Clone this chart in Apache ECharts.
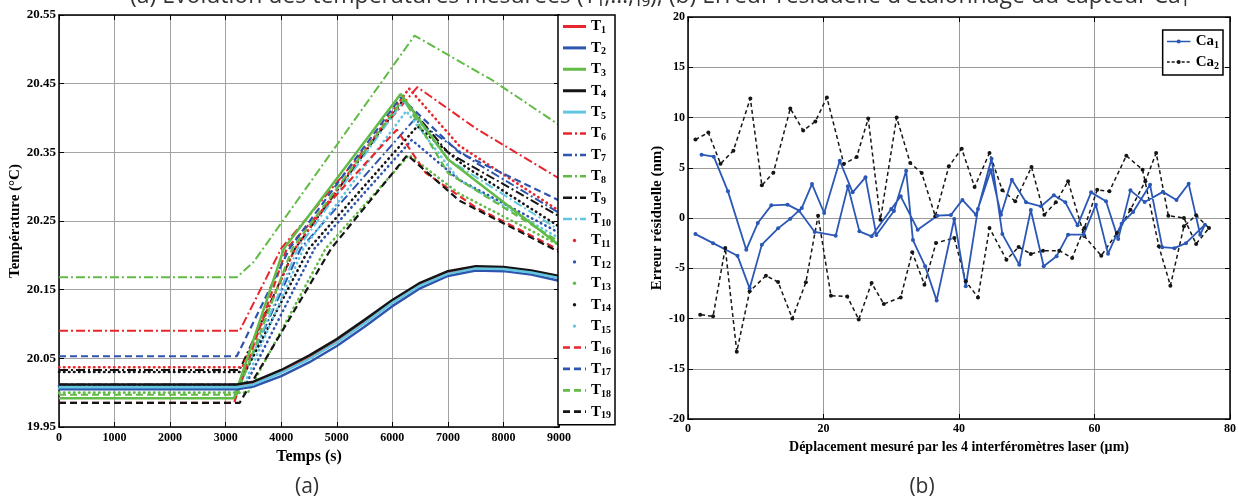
<!DOCTYPE html>
<html><head><meta charset="utf-8">
<script src="https://cdn.jsdelivr.net/npm/echarts@6/dist/echarts.min.js"></script>
<style>html,body{margin:0;padding:0;background:#fff}#c{width:1239px;height:499px}</style>
</head><body><div id="c"></div>
<script>
// ---------- (a) temperatures : [time (s), temperature (°C)] ----------
const tNames = ['T1','T2','T3','T4','T5','T6','T7','T8','T9','T10','T11','T12','T13','T14','T15','T16','T17','T18','T19'];
const T1 = [[0,20.008],[3200,20.008],[3500,20.013],[4000,20.03],[4500,20.05],[5000,20.074],[5500,20.102],[6000,20.132],[6500,20.157],[7000,20.174],[7500,20.182],[8000,20.181],[8500,20.176],[9000,20.168]];
const T2 = [[0,20.005],[3200,20.005],[3500,20.009],[4000,20.024],[4500,20.044],[5000,20.068],[5500,20.096],[6000,20.126],[6500,20.152],[7000,20.17],[7500,20.178],[8000,20.177],[8500,20.172],[9000,20.163]];
const T3 = [[0,19.992],[3150,19.992],[4050,20.21],[6150,20.435],[7000,20.34],[9000,20.215]];
const T4 = [[0,20.012],[3200,20.012],[3500,20.016],[4000,20.033],[4500,20.054],[5000,20.078],[5500,20.106],[6000,20.135],[6500,20.16],[7000,20.177],[7500,20.184],[8000,20.183],[8500,20.178],[9000,20.17]];
const T5 = [[0,20.008],[3200,20.008],[3500,20.012],[4000,20.029],[4500,20.049],[5000,20.073],[5500,20.101],[6000,20.131],[6500,20.156],[7000,20.173],[7500,20.181],[8000,20.18],[8500,20.175],[9000,20.167]];
const T6 = [[0,20.09],[3250,20.09],[4000,20.21],[6450,20.445],[7500,20.385],[9000,20.312]];
const T7 = [[0,20.012],[3250,20.012],[4350,20.21],[6400,20.398],[7500,20.335],[9000,20.262]];
const T8 = [[0,20.168],[3200,20.168],[3500,20.19],[6400,20.52],[7800,20.455],[9000,20.39]];
const T9 = [[0,20.033],[3250,20.033],[4250,20.21],[6200,20.427],[7000,20.35],[9000,20.257]];
const T10 = [[0,20.01],[3250,20.01],[4300,20.21],[6200,20.425],[7000,20.34],[9000,20.237]];
const T11 = [[0,20.037],[3300,20.037],[4250,20.21],[6300,20.443],[7200,20.36],[9000,20.265]];
const T12 = [[0,20.01],[3350,20.01],[4600,20.21],[6350,20.368],[7200,20.31],[9000,20.233]];
const T13 = [[0,20.0],[3400,20.0],[4800,20.21],[6300,20.346],[7200,20.29],[9000,20.215]];
const T14 = [[0,20.03],[3350,20.03],[4500,20.21],[6450,20.388],[7300,20.33],[9000,20.242]];
const T15 = [[0,20.006],[3300,20.006],[4400,20.21],[6250,20.41],[7200,20.31],[9000,20.225]];
const T16 = [[0,19.985],[3150,19.985],[4100,20.21],[6080,20.383],[6600,20.32],[7500,20.27],[9000,20.208]];
const T17 = [[0,20.053],[3200,20.053],[4150,20.21],[6150,20.43],[7200,20.35],[9000,20.28]];
const T18 = [[0,19.997],[3200,19.997],[4200,20.21],[6200,20.428],[7000,20.32],[9000,20.22]];
const T19 = [[0,19.985],[3250,19.985],[4900,20.21],[6270,20.346],[7200,20.28],[9000,20.205]];
const tData = [T1,T2,T3,T4,T5,T6,T7,T8,T9,T10,T11,T12,T13,T14,T15,T16,T17,T18,T19];
const tTicksX = {min:0, max:9000, step:1000};
const tTicksY = {min:19.95, max:20.55, step:0.1};

// ---------- (b) residual error : [displacement (µm), error (nm)] ----------
const ca1Out = [[1.1,-1.6],[3.7,-2.5],[7.3,-3.75],[9.1,-7.0],[10.9,-2.65],[13.3,-1.03],[15.1,-0.07],[16.8,1.0],[18.3,3.38],[20.1,0.5],[22.4,5.7],[24.3,2.55],[26.2,4.05],[27.8,-1.7],[30.4,0.7],[32.2,4.7],[33.2,-2.2],[35.0,-4.8],[36.7,-8.2],[39.3,-0.1],[41.0,-6.8],[42.8,0.9],[44.8,5.9],[46.4,-1.6],[48.9,-4.65],[50.6,0.8],[52.5,-4.8],[54.4,-3.8],[56.1,-1.66],[58.4,-1.66],[60.2,1.33],[62.0,-3.55],[64.0,-0.56],[65.7,0.6],[68.2,3.3],[70.0,-2.9],[71.8,-3.0],[73.5,-2.5],[76.3,-0.66]];
const ca1Back = [[2.0,6.3],[3.8,6.1],[5.9,2.65],[8.6,-3.15],[10.3,-0.5],[12.3,1.26],[14.7,1.33],[16.4,0.73],[18.7,-1.39],[21.8,-1.76],[23.6,3.15],[25.3,-1.33],[27.1,-1.82],[30.0,0.9],[31.4,2.16],[33.9,-1.16],[36.8,0.23],[38.8,0.3],[40.5,1.8],[42.5,0.33],[44.7,4.75],[46.2,0.33],[47.8,3.8],[49.9,1.56],[52.1,1.16],[54.0,2.26],[55.7,1.56],[57.5,-0.73],[59.5,2.55],[61.7,1.66],[63.5,-2.1],[65.3,2.75],[67.4,1.6],[70.1,2.6],[72.1,1.8],[73.9,3.4],[75.6,-1.66]];
const ca2Out = [[1.1,7.8],[3.0,8.5],[4.8,5.4],[6.7,6.7],[9.2,11.9],[10.9,3.25],[12.6,4.5],[15.1,10.9],[17.0,8.7],[18.8,9.6],[20.5,12.0],[23.0,5.37],[24.9,6.07],[26.6,9.9],[28.4,-0.17],[30.8,10.0],[32.8,5.47],[34.5,4.48],[36.5,0.17],[38.5,5.14],[40.4,6.9],[42.3,3.08],[44.5,6.47],[46.4,2.75],[48.3,1.66],[50.7,5.07],[52.6,0.33],[54.3,1.56],[56.1,3.65],[58.5,-1.8],[61.0,-3.75],[63.3,-1.5],[65.3,0.83],[67.5,3.65],[69.1,6.47],[70.9,0.23],[73.2,0],[75.0,-2.58],[76.9,-1.0]];
const ca2Back = [[1.8,-9.62],[3.7,-9.78],[5.5,-2.98],[7.2,-13.3],[9.1,-7.3],[11.5,-5.74],[13.3,-6.37],[15.4,-10.0],[17.4,-6.4],[19.2,0.23],[21.1,-7.73],[23.5,-7.8],[25.2,-10.1],[27.1,-6.47],[28.9,-8.56],[31.4,-7.9],[33.1,-3.42],[34.9,-6.63],[36.6,-2.49],[39.3,-1.99],[41.0,-6.3],[42.8,-7.9],[44.5,-1.0],[47.0,-4.15],[48.8,-2.89],[50.6,-3.58],[52.4,-3.25],[54.8,-3.25],[56.7,-3.98],[58.5,-1.0],[60.4,2.8],[62.2,2.65],[64.7,6.2],[67.1,4.8],[69.5,-2.82],[71.2,-6.73],[73.2,-0.83],[75.0,0.27]];
const caNames = ['Ca1','Ca2'];
const caTicksX = {min:0, max:80, step:20};
const caTicksY = {min:-20, max:20, step:5};

// ---------- styles ----------
const SERIF = '"Liberation Serif","Times New Roman",serif';
const RED='#e8262d', BLUE='#2e55ad', GREEN='#62bb46', BLACK='#151515', CYAN='#62c6e0', CABLUE='#2b57b5';
const cols = [RED,BLUE,GREEN,BLACK,CYAN];
const DASHDOT=[9,3,2,3], DOT=[0.5,4.5], DASH=[7,4];
function styleOf(i){
  const c = cols[i%5];
  if (i<5) return {color:c, width:2.5, type:'solid'};
  if (i<10) return {color:c, width:2, type:DASHDOT};
  if (i<15) return {color:c, width:2.6, type:DOT, cap:'round'};
  return {color:c, width:2.2, type:DASH};
}
function svgIcon(body, w, h){
  return 'image://data:image/svg+xml;utf8,' + encodeURIComponent('<svg xmlns="http://www.w3.org/2000/svg" width="'+w+'" height="'+h+'">'+body+'</svg>');
}
function legendIcon(i){
  const s = styleOf(i);
  if (i>=10 && i<15) return svgIcon('<circle cx="11.5" cy="6" r="1.7" fill="'+s.color+'"/>',23,12);
  const dash = Array.isArray(s.type) ? ' stroke-dasharray="'+s.type.join(',')+'"' : '';
  return svgIcon('<line x1="0" y1="6" x2="23" y2="6" stroke="'+s.color+'" stroke-width="'+(s.width+0.5)+'"'+dash+'/>',23,12);
}
function caIcon(color, dash){
  return svgIcon('<line x1="0" y1="4" x2="24" y2="4" stroke="'+color+'" stroke-width="1.6"'+(dash?' stroke-dasharray="3,2"':'')+'/><circle cx="12" cy="4" r="2" fill="'+color+'"/>',24,8);
}

const axisLbl = {fontFamily:SERIF, fontWeight:'bold', fontSize:12, color:'#000'};
const axLine = {show:true, onZero:false, lineStyle:{color:'#000', width:1.5}};
const tick = {show:true, inside:true, length:5, lineStyle:{color:'#000', width:1}};
function xA(grid, t, pos, extra){ return Object.assign({type:'value', gridIndex:grid, position:pos, min:t.min, max:t.max, interval:t.step,
  axisLine:axLine, axisTick:tick, axisLabel:{show:false}, splitLine:{show:false}}, extra||{}); }

const series = [];
const drawOrder = [5,6,7,8,9,10,11,12,13,14,15,16,17,18,2,0,3,1,4];
drawOrder.forEach(i=>{
  const ls = styleOf(i);
  series.push({name:tNames[i], type:'line', xAxisIndex:0, yAxisIndex:0, data:tData[i], symbol:'none', showSymbol:false,
    lineStyle:ls, itemStyle:{color:ls.color}});
});
series.push({name:'Ca2', type:'line', xAxisIndex:2, yAxisIndex:2, data:ca2Out.concat(ca2Back.slice().reverse()),
  symbol:'circle', symbolSize:4, showAllSymbol:true, lineStyle:{color:BLACK, width:1.5, type:[4,3]}, itemStyle:{color:BLACK}});
series.push({name:'Ca1', type:'line', xAxisIndex:2, yAxisIndex:2, data:ca1Out.concat(ca1Back.slice().reverse()),
  symbol:'circle', symbolSize:4, showAllSymbol:true, lineStyle:{color:CABLUE, width:1.8}, itemStyle:{color:CABLUE}});

const legRich = {t:{fontFamily:SERIF, fontWeight:'bold', fontSize:15, color:'#000', lineHeight:18, verticalAlign:'middle'},
                 s:{fontFamily:SERIF, fontWeight:'bold', fontSize:10, color:'#000', lineHeight:18, verticalAlign:'bottom'}};

const option = {
  animation:false,
  backgroundColor:'#fff',
  grid:[{left:59, right:680, top:15, bottom:72}, {left:688, right:7, top:17, bottom:80}],
  xAxis:[
    xA(0,tTicksX,'bottom',{axisLabel:Object.assign({margin:5, formatter:v=>String(v)},axisLbl), splitLine:{show:true, lineStyle:{color:'#a3a3a3', width:1}},
      name:'Temps (s)', nameLocation:'middle', nameGap:20, nameTextStyle:{fontFamily:SERIF, fontWeight:'bold', fontSize:16, color:'#000'}}),
    xA(0,tTicksX,'top'),
    xA(1,caTicksX,'bottom',{axisLabel:Object.assign({margin:4, formatter:v=>String(v)},axisLbl), splitLine:{show:true, lineStyle:{color:'#9a9a9a', width:1}},
      name:'Déplacement mesuré par les 4 interféromètres laser (µm)', nameLocation:'middle', nameGap:18, nameTextStyle:{fontFamily:SERIF, fontWeight:'bold', fontSize:14, color:'#000'}}),
    xA(1,caTicksX,'top')
  ],
  yAxis:[
    xA(0,tTicksY,'left',{axisLabel:Object.assign({margin:3, formatter:v=>v.toFixed(2)},axisLbl, {fontSize:13}), splitLine:{show:true, lineStyle:{color:'#a3a3a3', width:1}},
      name:'Température (°C)', nameLocation:'middle', nameGap:33, nameTextStyle:{fontFamily:SERIF, fontWeight:'bold', fontSize:15, color:'#000'}}),
    xA(0,tTicksY,'right'),
    xA(1,caTicksY,'left',{axisLabel:Object.assign({margin:3, formatter:v=>String(v)},axisLbl), splitLine:{show:true, lineStyle:{color:'#9a9a9a', width:1}},
      name:'Erreur résiduelle (nm)', nameLocation:'middle', nameGap:22, nameTextStyle:{fontFamily:SERIF, fontWeight:'bold', fontSize:15, color:'#000'}}),
    xA(1,caTicksY,'right')
  ],
  legend:[
    {orient:'vertical', left:558, top:15, itemWidth:23, itemHeight:12, itemGap:4.9, padding:[4,4,4,5],
     borderColor:'#000', borderWidth:1.5, backgroundColor:'#fff',
     data:tNames.map((n,i)=>({name:n, icon:legendIcon(i)})),
     formatter:n=>'{t|T}{s|'+n.slice(1)+'}', textStyle:{rich:legRich}},
    {orient:'vertical', right:16, top:30, itemWidth:24, itemHeight:8, itemGap:4, padding:[4,4,4,4],
     borderColor:'#000', borderWidth:1.5, backgroundColor:'#fff',
     data:[{name:'Ca1', icon:caIcon(CABLUE,false)},{name:'Ca2', icon:caIcon(BLACK,true)}],
     formatter:n=>'{t|Ca}{s|'+n.slice(2)+'}', textStyle:{rich:legRich}}
  ],
  graphic:[
    {type:'text', x:130, y:-4, style:{text:'(a) Évolution des températures mesurées (T₁,…,₁₉), (b) Erreur résiduelle d’étalonnage du capteur Ca₁',
      font:'23px "Open Sans","Noto Sans",sans-serif', fill:'#333', textAlign:'left', textVerticalAlign:'middle'}},
    {type:'text', x:307, y:487, style:{text:'(a)', font:'21px "Open Sans","Noto Sans",sans-serif', fill:'#333', textAlign:'center', textVerticalAlign:'middle'}},
    {type:'text', x:922, y:487, style:{text:'(b)', font:'21px "Open Sans","Noto Sans",sans-serif', fill:'#333', textAlign:'center', textVerticalAlign:'middle'}}
  ],
  series:series
};
const chart = echarts.init(document.getElementById('c'), null, {renderer:'canvas'});
chart.setOption(option);
</script></body></html>
